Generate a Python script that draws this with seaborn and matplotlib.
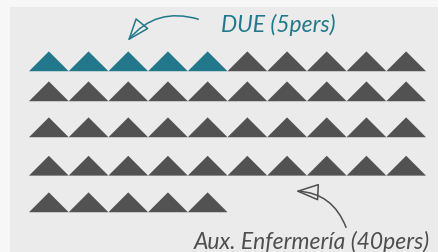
import numpy as np
import pandas as pd
import matplotlib
matplotlib.use("Agg")
import matplotlib.pyplot as plt
from matplotlib.patches import Rectangle
import seaborn as sns

# ---- data ----
categories = ["DUE", "Aux. Enfermería"]
counts = [5, 40]
labels = ["DUE (5pers)", "Aux. Enfermería (40pers)"]
per_row = 10

# ---- styles ----
colors = {"DUE": "#22788a", "Aux. Enfermería": "#525252"}
text_colors = {"DUE": "#22788a", "Aux. Enfermería": "#4e4e4e"}
bg_outer = "#f7f7f7"
bg_panel = "#ebebeb"

sns.set_theme(style="white")
plt.rcParams["font.family"] = ["Lato", "DejaVu Sans"]

# build one row per icon
cat_list = []
for c, n in zip(categories, counts):
    cat_list += [c] * n
idx = np.arange(len(cat_list))
col = idx % per_row
row = idx // per_row

# layout (pixel-like axes coordinates)
x0, dx = 48.85, 39.7
row_centers = [62.3, 92.3, 128.3, 166.7, 203.3]
df = pd.DataFrame({
    "cat": cat_list,
    "x": x0 + dx * col,
    "y": [row_centers[r] for r in row],
})

W, H = 438, 253
fig = plt.figure(figsize=(W / 100, H / 100), dpi=100, facecolor=bg_outer)
ax = fig.add_axes([0, 0, 1, 1])
ax.set_xlim(0, W)
ax.set_ylim(H, 0)
ax.set_facecolor(bg_outer)
ax.add_patch(Rectangle((10, 7.5), W - 10, H - 7.5, facecolor=bg_panel,
                       edgecolor="none", zorder=0))

tri = [(-1, -0.5), (1, -0.5), (0, 0.5)]
ms = 28.6
sns.scatterplot(data=df, x="x", y="y", hue="cat", palette=colors,
                marker=tri, s=ms ** 2, linewidth=0, legend=False, ax=ax,
                zorder=3)
ax.set_axis_off()

arrow_style = "-|>,head_length=1.2,head_width=0.45"

# annotations
ax.text(221, 24.5, labels[0], color=text_colors["DUE"], fontsize=16.5,
        style="italic", ha="left", va="center")
ax.annotate("", xy=(126, 44), xytext=(201, 21),
            arrowprops=dict(arrowstyle=arrow_style,
                            color=text_colors["DUE"], fc="none", lw=1.1,
                            connectionstyle="arc3,rad=0.35"))

ax.text(430, 241.5, labels[1], color=text_colors["Aux. Enfermería"],
        fontsize=16.5, style="italic", ha="right", va="center")
ax.annotate("", xy=(293, 192), xytext=(347, 231),
            arrowprops=dict(arrowstyle=arrow_style,
                            color="#4e4e4e", fc="none", lw=1.1,
                            connectionstyle="arc3,rad=0.35"))

fig.savefig("out.png", dpi=100, facecolor=bg_outer)
